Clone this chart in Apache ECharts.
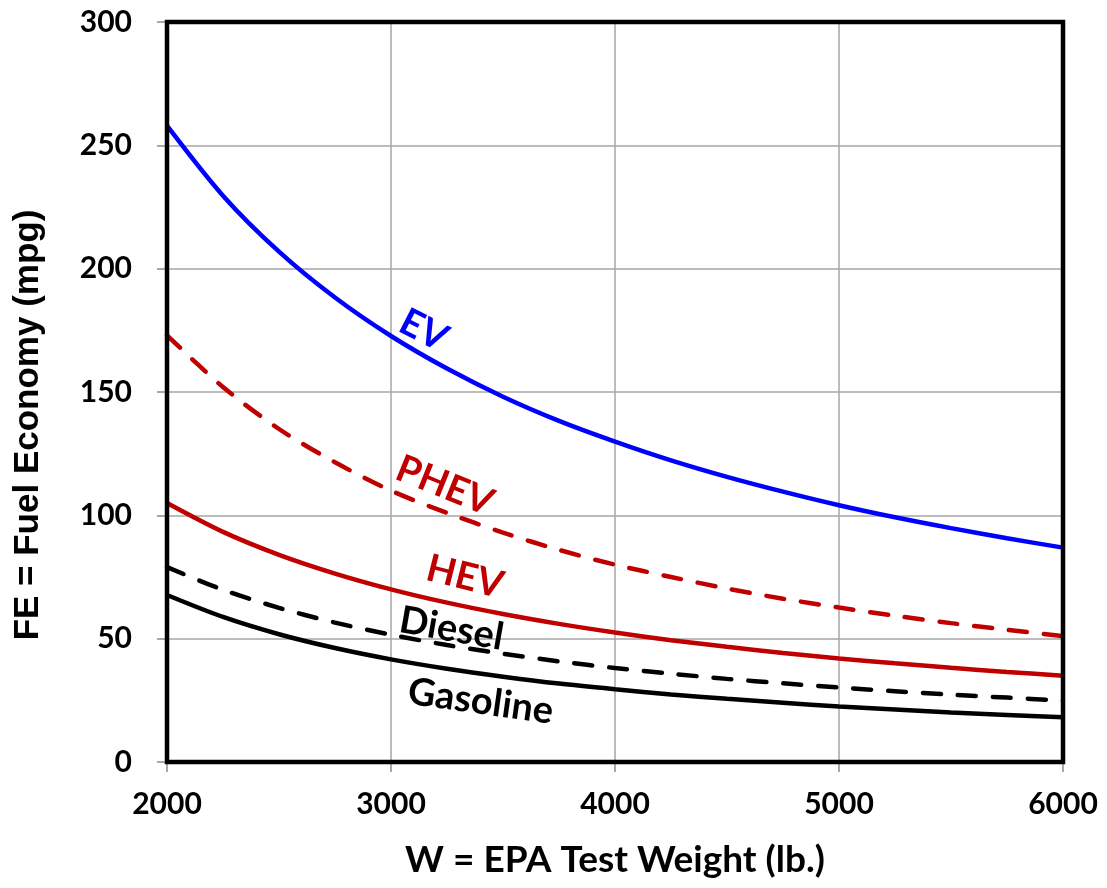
<!DOCTYPE html>
<html>
<head>
<meta charset="utf-8">
<script src="https://cdn.jsdelivr.net/npm/echarts@6/dist/echarts.min.js"></script>
<style>
  html, body { margin: 0; padding: 0; background: #fff; }
  #chart { width: 1107px; height: 888px; }
</style>
</head>
<body>
<div id="chart"></div>
<script>
// Test weight (lb) at which each curve is sampled
const weights = [2000, 2250, 2500, 2750, 3000, 3250, 3500, 3750, 4000, 4250, 4500, 4750, 5000, 5250, 5500, 5750, 6000];

// Fuel economy (mpg) for each powertrain
const evMpg       = [258, 229.6, 206.9, 188.3, 172.7, 159.5, 148.1, 138.3, 129.9, 122.3, 115.6, 109.6, 104.1, 99.2, 94.8, 90.7, 86.9];
const phevMpg     = [173, 152, 135, 121.5, 110, 101, 93, 86, 80, 75, 70.3, 66.2, 62.6, 59.3, 56.3, 53.6, 51];
const hevMpg      = [105, 93.3, 84, 76.4, 70, 64.6, 60, 56, 52.5, 49.4, 46.7, 44.2, 42, 40, 38.2, 36.5, 35];
const dieselMpg   = [79, 69.8, 62.5, 56.5, 51.6, 47.4, 43.9, 40.8, 38.1, 35.8, 33.7, 31.9, 30.2, 28.7, 27.3, 26.1, 24.9];
const gasolineMpg = [67.7, 58.8, 51.8, 46.2, 41.6, 37.8, 34.6, 31.8, 29.5, 27.4, 25.6, 24.0, 22.5, 21.3, 20.1, 19.1, 18.1];

// Curve labels: text, colour, anchor point (weight, mpg) and tilt in degrees
const curveLabels = [
  { text: 'EV',       color: '#0000ff', at: [3145, 175], tilt: 27 },
  { text: 'PHEV',     color: '#c00000', at: [3240, 112], tilt: 22 },
  { text: 'HEV',      color: '#c00000', at: [3330, 75],  tilt: 14 },
  { text: 'Diesel',   color: '#000000', at: [3270, 54],  tilt: 10 },
  { text: 'Gasoline', color: '#000000', at: [3400, 24.5], tilt: 8 }
];

const FONT = 'Lato';

function pairs(ys) { return weights.map((w, i) => [w, ys[i]]); }

function lineSeries(name, ys, color, dashed) {
  return {
    name: name,
    type: 'line',
    data: pairs(ys),
    smooth: 0.3,
    symbol: 'none',
    silent: true,
    lineStyle: {
      color: color,
      width: 4.5,
      type: dashed ? [18, 17] : 'solid',
      cap: dashed ? 'round' : 'butt'
    },
    z: 3
  };
}

const chart = echarts.init(document.getElementById('chart'), null, { renderer: 'canvas' });

chart.setOption({
  animation: false,
  backgroundColor: '#ffffff',
  grid: {
    left: 167, right: 44, top: 22, bottom: 126,
    show: true,
    borderColor: '#000',
    borderWidth: 4.5,
    backgroundColor: 'transparent',
    z: 5
  },
  xAxis: {
    type: 'value',
    min: 2000, max: 6000, interval: 1000,
    name: 'W = EPA Test Weight (lb.)',
    nameLocation: 'middle',
    nameGap: 80,
    nameTextStyle: { fontFamily: FONT, fontWeight: 'bold', fontSize: 37, color: '#000' },
    axisLine: { show: false },
    axisTick: { show: true, length: 10, lineStyle: { color: '#8c8c8c', width: 1.5 } },
    axisLabel: { margin: 27, fontFamily: FONT, fontWeight: 'bold', fontSize: 30, color: '#000',
                 formatter: v => String(v) },
    splitLine: { show: true, lineStyle: { color: '#a6a6a6', width: 1.5 } }
  },
  yAxis: {
    type: 'value',
    min: 0, max: 300, interval: 50,
    axisLine: { show: false },
    axisTick: { show: true, length: 10, lineStyle: { color: '#8c8c8c', width: 1.5 } },
    axisLabel: { margin: 35, fontFamily: FONT, fontWeight: 'bold', fontSize: 30, color: '#000',
                 formatter: v => String(v) },
    splitLine: { show: true, lineStyle: { color: '#a6a6a6', width: 1.5 } }
  },
  series: [
    lineSeries('EV', evMpg, '#0000ff', false),
    lineSeries('PHEV', phevMpg, '#c00000', true),
    lineSeries('HEV', hevMpg, '#c00000', false),
    lineSeries('Diesel', dieselMpg, '#000000', true),
    lineSeries('Gasoline', gasolineMpg, '#000000', false)
  ]
});

// Tilted curve names next to their lines, plus the vertical axis title
const graphics = curveLabels.map(l => {
  const p = chart.convertToPixel({ gridIndex: 0 }, l.at);
  return {
    type: 'text',
    x: p[0], y: p[1],
    rotation: -l.tilt * Math.PI / 180,
    z: 10,
    style: {
      text: l.text,
      fill: l.color,
      font: 'bold 38px ' + FONT,
      align: 'center',
      verticalAlign: 'middle'
    }
  };
});
graphics.push({
  type: 'text',
  x: 28, y: 425,
  rotation: Math.PI / 2,
  z: 10,
  style: {
    text: 'FE = Fuel Economy (mpg)',
    fill: '#000',
    font: 'bold 35px "Liberation Sans"',
    align: 'center',
    verticalAlign: 'middle'
  }
});
chart.setOption({ graphic: graphics });
</script>
</body>
</html>
